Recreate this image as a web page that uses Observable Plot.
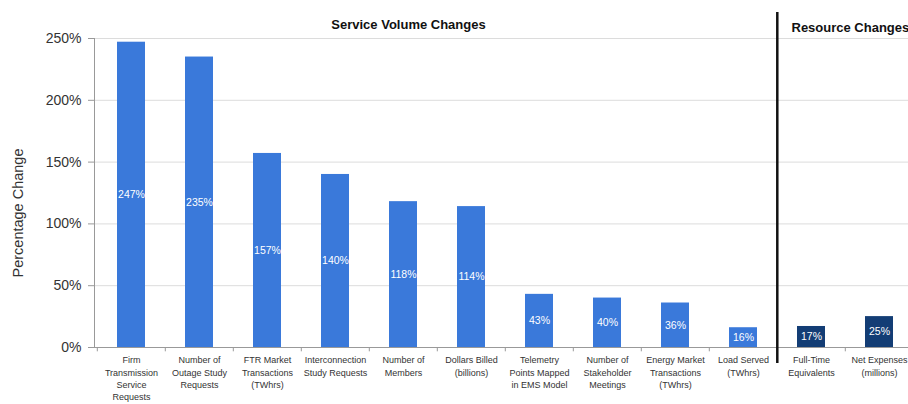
<!DOCTYPE html>
<html>
<head>
<meta charset="utf-8">
<script src="https://cdn.jsdelivr.net/npm/d3@7"></script>
<script src="https://cdn.jsdelivr.net/npm/@observablehq/plot@0.6"></script>
<style>
  html, body { margin: 0; padding: 0; background: #fff; overflow: hidden; }
  svg { display: block; }
</style>
</head>
<body>
<div id="chart"></div>
<script>
const categories = [
  "Firm\nTransmission\nService\nRequests",
  "Number of\nOutage Study\nRequests",
  "FTR Market\nTransactions\n(TWhrs)",
  "Interconnection\nStudy Requests",
  "Number of\nMembers",
  "Dollars Billed\n(billions)",
  "Telemetry\nPoints Mapped\nin EMS Model",
  "Number of\nStakeholder\nMeetings",
  "Energy Market\nTransactions\n(TWhrs)",
  "Load Served\n(TWhrs)",
  "Full-Time\nEquivalents",
  "Net Expenses\n(millions)"
];
const values = [247, 235, 157, 140, 118, 114, 43, 40, 36, 16, 17, 25];
const groups = ["Service", "Service", "Service", "Service", "Service", "Service", "Service", "Service", "Service", "Service", "Resource", "Resource"];
const yTicks = [0, 50, 100, 150, 200, 250];
const sectionTitles = ["Service Volume Changes", "Resource Changes"];
const yLabel = "Percentage Change";

const data = categories.map((c, i) => ({category: c, value: values[i], group: groups[i]}));
const font = "'Liberation Sans', Arial, sans-serif";

const chart = Plot.plot({
  width: 908,
  height: 404,
  marginLeft: 94,
  marginRight: -7,
  marginTop: 38,
  marginBottom: 57,
  style: {fontFamily: font, background: "#fff", overflow: "visible"},
  x: {type: "band", domain: categories, paddingInner: 0.59, paddingOuter: 0.295, axis: null, label: null},
  y: {type: "linear", domain: [0, 250], axis: null, label: null},
  color: {domain: ["Service", "Resource"], range: ["#3a79da", "#133d75"]},
  marks: [
    Plot.gridY(yTicks, {stroke: "#dcdcdc", strokeOpacity: 1, strokeWidth: 1}),
    Plot.barY(data, {x: "category", y: "value", fill: "group"}),
    Plot.text(data, {
      x: "category", y: d => d.value / 2, text: d => d.value + "%",
      fill: "white", fontSize: 10.5, letterSpacing: "-0.3px"
    }),
    Plot.axisY(yTicks, {
      tickFormat: d => d + "%", tickSize: 6, tickPadding: 7, stroke: "#999",
      fontSize: 14, fill: "#333", letterSpacing: "-0.4px", label: null
    }),
    Plot.frame({anchor: "left", stroke: "#999"}),
    Plot.ruleY([0], {stroke: "#999"}),
    Plot.axisX({
      tickSize: 0, tickPadding: 7, fontSize: 9, lineHeight: 1.37,
      fill: "#333", letterSpacing: "-0.4px", label: null
    }),
    Plot.ruleX(categories, {
      x: d => d, dx: -34.2, y1: 0, y2: -3.5, stroke: "#999"
    }),
    Plot.ruleX([categories[10]], {
      x: d => d, dx: -34.2, stroke: "#111", strokeWidth: 2.5,
      insetTop: -26, insetBottom: -16
    }),
    Plot.text([sectionTitles[0]], {
      frameAnchor: "top-left", dx: 314, dy: -19, text: d => d,
      fontSize: 13, fontWeight: "bold", textAnchor: "middle", letterSpacing: "-0.7px", fill: "#111"
    }),
    Plot.text([sectionTitles[1]], {
      frameAnchor: "top-left", dx: 697, dy: -16, text: d => d,
      fontSize: 13, fontWeight: "bold", textAnchor: "start", letterSpacing: "-0.7px", fill: "#111"
    }),
    Plot.text([yLabel], {
      frameAnchor: "left", dx: -76, dy: 20, rotate: -90, text: d => d,
      textAnchor: "middle", fontSize: 14.5, fill: "#333", letterSpacing: "-0.2px"
    })
  ]
});
document.getElementById("chart").appendChild(chart);
</script>
</body>
</html>
